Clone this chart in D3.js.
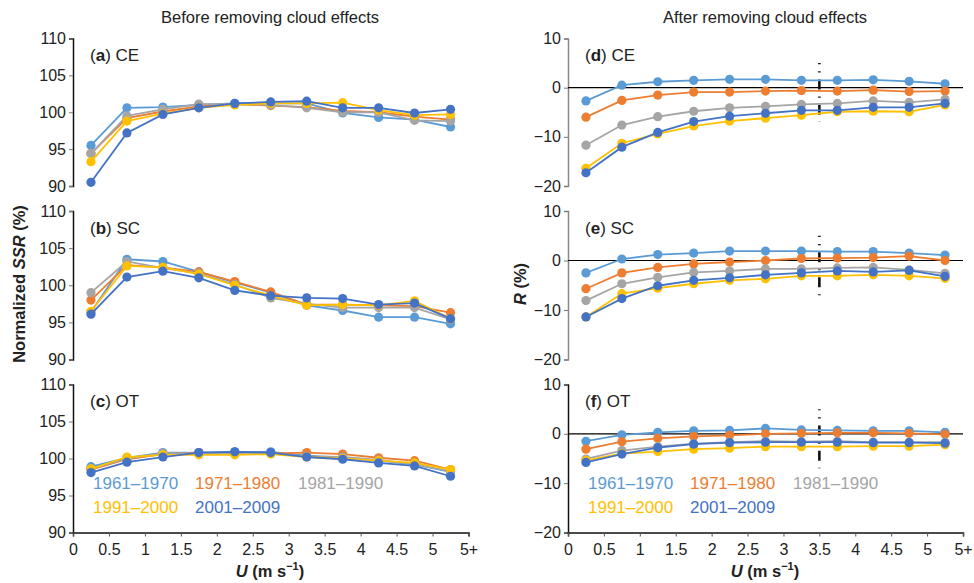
<!DOCTYPE html>
<html>
<head>
<meta charset="utf-8">
<script src="https://cdn.jsdelivr.net/npm/d3@7"></script>
<style>
  body { margin: 0; background: #fff; }
  svg { font-family: "Liberation Sans", Arial, Helvetica, sans-serif; }
  .tick text { font-size: 16px; fill: #222; }
</style>
</head>
<body>
<svg id="chart" width="974" height="583"></svg>
<script>
// wind speed bins (m/s), last bin is "5+"
var uBins = [0.25, 0.75, 1.25, 1.75, 2.25, 2.75, 3.25, 3.75, 4.25, 4.75, 5.25];
var xTicks = [0, 0.5, 1, 1.5, 2, 2.5, 3, 3.5, 4, 4.5, 5, 5.5];
var xTickLabels = ["0", "0.5", "1", "1.5", "2", "2.5", "3", "3.5", "4", "4.5", "5", "5+"];
var periods = ["1961\u20131970", "1971\u20131980", "1981\u20131990", "1991\u20132000", "2001\u20132009"];
var colors = ["#5b9bd5", "#ed7d31", "#a5a5a5", "#ffc000", "#4472c4"];

var leftTicks = [90, 95, 100, 105, 110];
var rightTicks = [-20, -10, 0, 10];

// normalized SSR (%) before removing cloud effects
var ceBefore = [
    [95.5, 100.6, 100.7, 101.0, 101.2, 101.2, 101.2, 99.9, 99.3, 99.0, 98.0],
    [94.4, 99.2, 100.1, 100.8, 101.1, 100.9, 100.7, 100.2, 100.0, 99.4, 99.0],
    [94.4, 99.5, 100.4, 101.1, 101.1, 101.0, 100.6, 100.0, 100.0, 98.9, 98.8],
    [93.3, 98.8, 99.8, 100.6, 101.0, 101.2, 101.2, 101.3, 100.3, 99.6, 99.7],
    [90.5, 97.2, 99.7, 100.6, 101.2, 101.4, 101.5, 100.6, 100.6, 99.9, 100.4]
];
var scBefore = [
    [96.4, 103.5, 103.2, 101.8, 100.4, 99.0, 97.3, 96.6, 95.7, 95.7, 94.8],
    [98.0, 102.7, 102.4, 101.8, 100.5, 99.1, 97.4, 97.4, 97.3, 97.2, 96.3],
    [99.0, 103.2, 102.3, 101.6, 100.1, 98.3, 97.5, 97.0, 97.0, 97.0, 95.4],
    [96.5, 102.6, 102.4, 101.5, 100.0, 98.6, 97.3, 97.4, 97.3, 97.9, 95.5],
    [96.1, 101.1, 101.9, 101.0, 99.3, 98.6, 98.3, 98.2, 97.4, 97.6, 95.5]
];
var otBefore = [
    [98.9, 100.1, 100.8, 100.8, 100.9, 100.9, 100.4, 100.1, 99.7, 99.2, 98.2],
    [98.5, 99.9, 100.6, 100.8, 100.7, 100.7, 100.8, 100.6, 100.1, 99.7, 98.5],
    [98.6, 100.0, 100.7, 100.7, 100.7, 100.7, 100.3, 100.2, 99.8, 99.2, 98.3],
    [98.6, 100.2, 100.5, 100.5, 100.5, 100.6, 100.2, 100.0, 99.7, 99.4, 98.5],
    [98.1, 99.5, 100.2, 100.8, 100.9, 100.8, 100.2, 99.9, 99.4, 99.0, 97.6]
];

// R (%) after removing cloud effects
var ceAfter = [
    [-2.7, 0.5, 1.2, 1.5, 1.7, 1.7, 1.5, 1.5, 1.6, 1.3, 0.8],
    [-6.0, -2.6, -1.5, -0.9, -0.9, -0.7, -0.6, -0.7, -0.5, -0.8, -0.7],
    [-11.7, -7.6, -5.9, -4.8, -4.1, -3.8, -3.4, -3.2, -2.7, -3.0, -2.4],
    [-16.4, -11.3, -9.4, -7.8, -6.8, -6.2, -5.6, -4.9, -4.8, -4.9, -3.5],
    [-17.3, -12.1, -9.1, -6.9, -5.8, -5.2, -4.6, -4.6, -4.0, -4.0, -3.2]
];
var scAfter = [
    [-2.5, 0.3, 1.2, 1.5, 1.9, 1.9, 1.9, 1.8, 1.8, 1.5, 1.1],
    [-5.7, -2.5, -1.4, -0.7, -0.3, 0.0, 0.4, 0.5, 0.6, 0.9, 0.0],
    [-8.1, -4.7, -3.4, -2.4, -2.1, -1.7, -1.7, -1.5, -1.4, -1.9, -2.6],
    [-11.4, -6.7, -5.6, -4.7, -4.0, -3.7, -3.1, -3.1, -2.9, -3.1, -3.6],
    [-11.4, -7.7, -5.1, -4.0, -3.5, -2.9, -2.5, -2.1, -2.3, -2.0, -3.2]
];
var otAfter = [
    [-1.5, -0.2, 0.3, 0.6, 0.7, 1.1, 0.8, 0.7, 0.6, 0.6, 0.3],
    [-3.1, -1.6, -0.9, -0.5, -0.3, 0.0, 0.1, 0.2, 0.2, 0.1, -0.1],
    [-5.1, -3.4, -2.6, -2.0, -1.7, -1.5, -1.6, -1.5, -1.7, -1.7, -1.7],
    [-5.4, -4.0, -3.6, -3.1, -2.9, -2.6, -2.6, -2.6, -2.5, -2.5, -2.2],
    [-5.8, -4.1, -2.8, -2.1, -1.8, -1.7, -1.7, -1.7, -1.8, -1.8, -1.9]
];

var svg = d3.select("#chart");

var rows = [
    { top: 38.5, bottom: 186 },
    { top: 211, bottom: 359.5 },
    { top: 384.5, bottom: 532.5 }
];

var xLeft = d3.scaleLinear().domain([0, 5.5]).range([73, 468.5]);
var xRight = d3.scaleLinear().domain([0, 5.5]).range([568, 963]);

var panels = [
    { label: "a", name: "CE", data: ceBefore, x: xLeft, row: 0, dom: [90, 110], ticks: leftTicks, side: "left" },
    { label: "b", name: "SC", data: scBefore, x: xLeft, row: 1, dom: [90, 110], ticks: leftTicks, side: "left" },
    { label: "c", name: "OT", data: otBefore, x: xLeft, row: 2, dom: [90, 110], ticks: leftTicks, side: "left" },
    { label: "d", name: "CE", data: ceAfter, x: xRight, row: 0, dom: [-20, 10], ticks: rightTicks, side: "right" },
    { label: "e", name: "SC", data: scAfter, x: xRight, row: 1, dom: [-20, 10], ticks: rightTicks, side: "right" },
    { label: "f", name: "OT", data: otAfter, x: xRight, row: 2, dom: [-20, 10], ticks: rightTicks, side: "right" }
];

panels.forEach(function (p) {
    var r = rows[p.row];
    var x = p.x;
    var y = d3.scaleLinear().domain(p.dom).range([r.bottom, r.top]);
    var x0 = x.range()[0];
    var axisColor = (p.side == "right" && p.row < 2) ? "#888" : "#111";

    var g = svg.append("g");

    // y axis
    var ya = g.append("g")
        .attr("transform", "translate(" + x0 + ",0)")
        .call(d3.axisLeft(y).tickValues(p.ticks).tickSize(4).tickPadding(3).tickFormat(function (d) {
            return d < 0 ? "\u2212" + Math.abs(d) : d;
        }));
    ya.select(".domain").attr("stroke", axisColor).attr("stroke-width", 1.5);
    ya.selectAll(".tick line").attr("stroke", "#777");

    // x axis only on the bottom row
    if (p.row == 2) {
        var xa = g.append("g")
            .attr("transform", "translate(0," + r.bottom + ")")
            .call(d3.axisBottom(x).tickValues(xTicks).tickSize(4).tickPadding(4)
                .tickFormat(function (d, i) { return xTickLabels[i]; }));
        xa.select(".domain").attr("stroke", "#111").attr("stroke-width", 1.5);
        xa.selectAll(".tick line").attr("stroke", "#555");
        xa.selectAll(".tick text").attr("dy", "0.9em");
    }

    if (p.side == "right") {
        g.append("line")
            .attr("x1", x0).attr("x2", x.range()[1])
            .attr("y1", y(0)).attr("y2", y(0))
            .attr("stroke", "#000").attr("stroke-width", 1.2);

        g.append("line")
            .attr("x1", x(3.5)).attr("x2", x(3.5))
            .attr("y1", y(5)).attr("y2", y(-7))
            .attr("stroke", "#111").attr("stroke-width", 2.6)
            .attr("stroke-dasharray", "1.2,7,1.2,7,10,7,1.2,7,10,7,1.2,20");
    }

    var line = d3.line()
        .x(function (d, i) { return x(uBins[i]); })
        .y(function (d) { return y(d); });

    p.data.forEach(function (vals, k) {
        g.append("path")
            .datum(vals)
            .attr("d", line)
            .attr("fill", "none")
            .attr("stroke", colors[k])
            .attr("stroke-width", 1.8);
        g.selectAll(".pt" + k)
            .data(vals)
            .enter()
            .append("circle")
            .attr("cx", function (d, i) { return x(uBins[i]); })
            .attr("cy", function (d) { return y(d); })
            .attr("r", 4.6)
            .attr("fill", colors[k]);
    });

    // panel label
    var t = g.append("text")
        .attr("x", x0 + 17)
        .attr("y", r.top + 22.5)
        .attr("font-size", 17)
        .attr("fill", "#222");
    t.append("tspan").text("(");
    t.append("tspan").attr("font-weight", "bold").text(p.label);
    t.append("tspan").text(") " + p.name);

    // legend on bottom row
    if (p.row == 2) {
        var offs = [20, 122, 225, 20, 122];
        periods.forEach(function (name, k) {
            g.append("text")
                .attr("x", x0 + offs[k])
                .attr("y", k < 3 ? 489 : 513)
                .attr("font-size", 17)
                .attr("fill", colors[k])
                .text(name);
        });
    }
});

// column titles
svg.append("text").attr("x", 270).attr("y", 23).attr("text-anchor", "middle")
    .attr("font-size", 16.5).attr("fill", "#222").text("Before removing cloud effects");
svg.append("text").attr("x", 765).attr("y", 23).attr("text-anchor", "middle")
    .attr("font-size", 16.5).attr("fill", "#222").text("After removing cloud effects");

// y labels
var yl = svg.append("text")
    .attr("transform", "translate(25,284) rotate(-90)")
    .attr("text-anchor", "middle")
    .attr("font-size", 16.5).attr("font-weight", "bold").attr("fill", "#222");
yl.append("tspan").text("Normalized ");
yl.append("tspan").attr("font-style", "italic").text("SSR");
yl.append("tspan").text(" (%)");

var yr = svg.append("text")
    .attr("transform", "translate(526,284) rotate(-90)")
    .attr("text-anchor", "middle")
    .attr("font-size", 16.5).attr("font-weight", "bold").attr("fill", "#222");
yr.append("tspan").attr("font-style", "italic").text("R");
yr.append("tspan").text(" (%)");

// x labels
[270, 765].forEach(function (cx) {
    var xl = svg.append("text")
        .attr("x", cx).attr("y", 577)
        .attr("text-anchor", "middle")
        .attr("font-size", 16.5).attr("font-weight", "bold").attr("fill", "#222");
    xl.append("tspan").attr("font-style", "italic").text("U");
    xl.append("tspan").text(" (m s");
    xl.append("tspan").attr("font-size", 11).attr("dy", -7).text("\u22121");
    xl.append("tspan").attr("dy", 7).text(")");
});
</script>
</body>
</html>
